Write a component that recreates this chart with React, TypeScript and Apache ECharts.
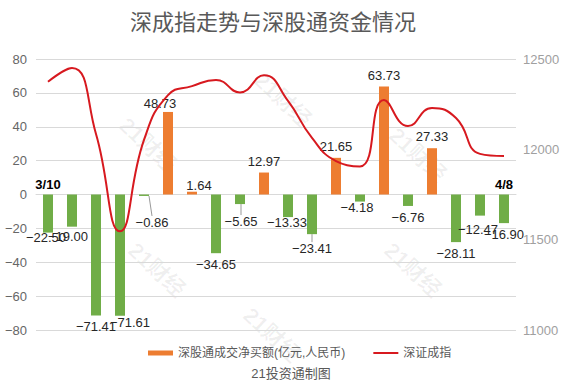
import React, { useEffect, useRef } from "react";
import * as echarts from "echarts";

const dates = ["3/10","3/11","3/14","3/15","3/16","3/17","3/18","3/21","3/22","3/23","3/24","3/25","3/28","3/29","3/30","3/31","4/1","4/6","4/7","4/8"];
const netBuy = [-22.5,-19.0,-71.41,-71.61,-0.86,48.73,1.64,-34.65,-5.65,12.97,-13.33,-23.41,21.65,-4.18,63.73,-6.76,27.33,-28.11,-12.47,-16.9];
const szIndex = [12374,12450,12085,11546,12052,12300,12350,12384,12315,12410,12268,12063,11935,11905,12273,12129,12229,12173,11975,11963];
const leftTicks = { min: -80, max: 80, interval: 20 };
const rightTicks = { min: 11000, max: 12500, interval: 500 };

const barName = "深股通成交净买额(亿元,人民币)";
const lineName = "深证成指";
const FONT = "'Liberation Sans', Arial, 'Noto Sans CJK SC', sans-serif";

// label nudges (styling only): index -> [dx, dy]
const nudges: Record<number, [number, number]> = {
  0: [-2, -7],
  1: [-4, -2],
  3: [10, -5],
  4: [8, 15],
  5: [-8, 3],
  6: [7, 5],
  8: [1, 6],
  10: [-1, -6],
  11: [0, 3],
  13: [-3, -6],
  18: [-2, 2],
};
const withLeader = new Set([4, 8, 11]);

const GRID_TOP = 59;
const GRID_BOTTOM = 54;
const CHART_H = 384;

function fmt(v: number) {
  return (v < 0 ? "\u2212" : "") + Math.abs(v).toFixed(2);
}

export default function App() {
  const ref = useRef<HTMLDivElement>(null);
  useEffect(() => {
    if (!ref.current) return;
    const chart = echarts.init(ref.current, undefined, { renderer: "svg" });
    const barData = netBuy.map((v, i) => ({
      value: v,
      itemStyle: { color: v < 0 ? "#70AD47" : "#ED7D31" },
      label: { position: v < 0 ? "bottom" : "top" },
      labelLine: { show: withLeader.has(i), lineStyle: { color: "#999", width: 1 } },
    }));
    const marks = [
      [148, 145], [157, 270], [283, 100], [272, 335], [418, 155], [413, 270],
    ];
    const gridH = CHART_H - GRID_TOP - GRID_BOTTOM;
    const zeroOffset = -gridH * ((0 - leftTicks.min) / (leftTicks.max - leftTicks.min));
    chart.setOption({
      animation: false,
      backgroundColor: "#fff",
      textStyle: { fontFamily: FONT },
      title: {
        text: "深成指走势与深股通资金情况",
        left: 125,
        top: 6,
        textStyle: { fontSize: 22, color: "#595959", fontWeight: "normal", fontFamily: FONT },
      },
      legend: {
        left: 143,
        top: 342,
        itemWidth: 25,
        itemHeight: 5,
        itemGap: 28,
        textStyle: { fontSize: 12, color: "#595959", fontFamily: FONT },
        data: [
          { name: barName, icon: "rect", itemStyle: { color: "#ED7D31" } },
          { name: lineName, icon: "path://M0,0H25V2H0Z", itemStyle: { color: "#D7191F" } },
        ],
      },
      grid: { left: 36, right: 48, top: GRID_TOP, bottom: GRID_BOTTOM, containLabel: false },
      xAxis: {
        type: "category",
        data: dates,
        position: "bottom",
        offset: zeroOffset,
        axisLine: { show: true, onZero: false, lineStyle: { color: "#d9d9d9" } },
        axisTick: { show: false },
        axisLabel: {
          inside: true,
          margin: 4,
          interval: (i: number) => i === 0 || i === dates.length - 1,
          fontWeight: "bold",
          fontSize: 13,
          color: "#000",
          fontFamily: FONT,
        },
      },
      yAxis: [
        {
          type: "value",
          ...leftTicks,
          axisLine: { show: false },
          axisTick: { show: false },
          splitLine: { lineStyle: { color: "#d9d9d9" } },
          axisLabel: {
            fontSize: 13,
            color: "#666",
            margin: 9,
            fontFamily: FONT,
            formatter: (v: number) => (v < 0 ? "\u2212" : "") + Math.abs(v),
          },
        },
        {
          type: "value",
          position: "right",
          ...rightTicks,
          axisLine: { show: false, onZero: false },
          axisTick: { show: false },
          splitLine: { show: false },
          axisLabel: {
            fontSize: 13,
            color: "#a0a0a0",
            margin: 7,
            fontFamily: FONT,
            formatter: (v: number) => String(v),
          },
        },
      ],
      series: [
        {
          name: barName,
          type: "bar",
          yAxisIndex: 0,
          barWidth: 10,
          data: barData,
          itemStyle: { color: "#ED7D31" },
          label: {
            show: true,
            distance: 5,
            fontSize: 13,
            color: "#262626",
            fontFamily: FONT,
            formatter: (p: any) => fmt(p.value),
          },
          labelLayout: (p: any) => {
            const n = nudges[p.dataIndex];
            return n ? { dx: n[0], dy: n[1] } : {};
          },
          z: 2,
        },
        {
          name: lineName,
          type: "line",
          yAxisIndex: 1,
          data: szIndex,
          smooth: 0.5,
          symbol: "none",
          lineStyle: { color: "#D7191F", width: 2 },
          itemStyle: { color: "#D7191F" },
          z: 3,
        },
      ],
      graphic: [
        ...marks.map(([x, y]) => ({
          type: "text",
          x,
          y,
          rotation: -0.75,
          silent: true,
          z: 0,
          style: {
            text: "21财经",
            fontSize: 22,
            fontWeight: "bold",
            fill: "rgba(0,0,0,0.06)",
            align: "center",
            verticalAlign: "middle",
            textAlign: "center",
            textVerticalAlign: "middle",
            fontFamily: FONT,
          },
        })),
        {
          type: "text",
          x: 291,
          y: 373,
          style: {
            text: "21投资通制图",
            fontSize: 13,
            fill: "#595959",
            align: "center",
            verticalAlign: "middle",
            textAlign: "center",
            textVerticalAlign: "middle",
            fontFamily: FONT,
          },
        },
      ],
    });
    return () => chart.dispose();
  }, []);
  return (
    <div
      ref={ref}
      style={{ position: "absolute", left: 0, top: 0, width: 564, height: 384, background: "#fff" }}
    />
  );
}
